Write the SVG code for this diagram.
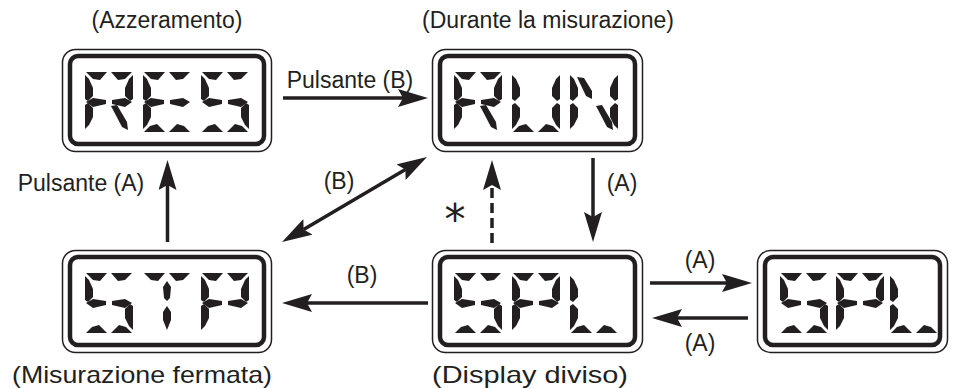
<svg xmlns="http://www.w3.org/2000/svg" xmlns:xlink="http://www.w3.org/1999/xlink" width="955" height="388" viewBox="0 0 955 388">
<style>
.t{font-family:"Liberation Sans",Arial,sans-serif;font-size:23px;fill:#231f20}
.ob{fill:#fff;stroke:#231f20;stroke-width:1.5}
.ib{fill:none;stroke:#231f20;stroke-width:4.5}
.seg{fill:#231f20}
.ln{stroke:#231f20;stroke-width:3.5;fill:none}
</style>
<defs>
<marker id="ah" viewBox="0 0 30 18" refX="5" refY="9" markerWidth="30" markerHeight="18" markerUnits="userSpaceOnUse" orient="auto-start-reverse">
<path d="M0,0 L30,9 L0,18 L5,9 Z" fill="#231f20"/>
</marker>
<polygon id="a1" class="seg" points="1,0 22,0 15,8 8,7"/>
<polygon id="a2" class="seg" points="26,0 47,0 40,7 33,8"/>
<polygon id="f" class="seg" points="0,3 4,7 8,16 8,24 3,29 0,27"/>
<polygon id="b" class="seg" points="48,3 44,7 40,16 40,24 45,29 48,27"/>
<polygon id="g1" class="seg" points="1,30 8,26 21,28 21,32 8,35"/>
<polygon id="g2" class="seg" points="27,28 40,26 47,30 40,35 27,32"/>
<polygon id="e" class="seg" points="0,33 3,31 8,36 8,45 4,53 0,57"/>
<polygon id="c" class="seg" points="48,33 45,31 40,36 40,45 44,53 48,57"/>
<polygon id="d1" class="seg" points="1,60 7,54 14,52 22,60"/>
<polygon id="d2" class="seg" points="26,60 34,52 41,54 47,60"/>
<polygon id="h" class="seg" points="7,5 14,6 22,19 22,27 16,24"/>
<polygon id="i" class="seg" points="24,8 28,14 27,25 24,28 21,25 20,14"/>
<polygon id="l" class="seg" points="24,33 28,39 28,47 24,57 20,47 20,39"/>
<polygon id="m" class="seg" points="26,34 32,33 42,50 43,58 37,55"/>
</defs>

<g id="connectors">
<line class="ln" x1="283" y1="98" x2="403" y2="98" marker-end="url(#ah)"/>
<line class="ln" x1="167.5" y1="242" x2="167.5" y2="185" marker-end="url(#ah)"/>
<line class="ln" x1="303.6" y1="229.4" x2="405.4" y2="169.6" marker-start="url(#ah)" marker-end="url(#ah)"/>
<line class="ln" x1="492" y1="243" x2="492" y2="185" stroke-dasharray="10,5" marker-end="url(#ah)"/>
<line class="ln" x1="593" y1="158" x2="593" y2="217" marker-end="url(#ah)"/>
<line class="ln" x1="428" y1="303" x2="307" y2="303" marker-end="url(#ah)"/>
<line class="ln" x1="650" y1="283" x2="727" y2="283" marker-end="url(#ah)"/>
<line class="ln" x1="748" y1="318" x2="677" y2="318" marker-end="url(#ah)"/>
</g>

<g id="res">
<rect class="ob" x="62.5" y="49.5" width="209" height="102" rx="13"/>
<rect class="ib" x="70" y="56" width="194" height="88" rx="8"/>
<g transform="translate(85,72)"><use href="#a1"/><use href="#a2"/><use href="#f"/><use href="#b"/><use href="#g1"/><use href="#g2"/><use href="#e"/><use href="#m"/></g>
<g transform="translate(143,72)"><use href="#a1"/><use href="#a2"/><use href="#f"/><use href="#g1"/><use href="#g2"/><use href="#e"/><use href="#d1"/><use href="#d2"/></g>
<g transform="translate(201,72)"><use href="#a1"/><use href="#a2"/><use href="#f"/><use href="#g1"/><use href="#g2"/><use href="#c"/><use href="#d1"/><use href="#d2"/></g>
<text class="t" x="167" y="28" text-anchor="middle">(Azzeramento)</text>
</g>

<g id="run">
<rect class="ob" x="432.5" y="49.5" width="210" height="102" rx="13"/>
<rect class="ib" x="440" y="56" width="195" height="88" rx="8"/>
<g transform="translate(454,72)"><use href="#a1"/><use href="#a2"/><use href="#f"/><use href="#b"/><use href="#g1"/><use href="#g2"/><use href="#e"/><use href="#m"/></g>
<g transform="translate(512,72)"><use href="#f"/><use href="#b"/><use href="#e"/><use href="#c"/><use href="#d1"/><use href="#d2"/></g>
<g transform="translate(570,72)"><use href="#f"/><use href="#b"/><use href="#e"/><use href="#c"/><use href="#h"/><use href="#m"/></g>
<text class="t" x="548" y="28" text-anchor="middle">(Durante la misurazione)</text>
</g>

<g id="stp">
<rect class="ob" x="62.5" y="250.5" width="209" height="102" rx="13"/>
<rect class="ib" x="70" y="257" width="194" height="88" rx="8"/>
<g transform="translate(85,273)"><use href="#a1"/><use href="#a2"/><use href="#f"/><use href="#g1"/><use href="#g2"/><use href="#c"/><use href="#d1"/><use href="#d2"/></g>
<g transform="translate(143,273)"><use href="#a1"/><use href="#a2"/><use href="#i"/><use href="#l"/></g>
<g transform="translate(201,273)"><use href="#a1"/><use href="#a2"/><use href="#f"/><use href="#b"/><use href="#g1"/><use href="#g2"/><use href="#e"/></g>
<text class="t" x="142" y="383" text-anchor="middle" style="font-size:24px" textLength="260" lengthAdjust="spacingAndGlyphs">(Misurazione fermata)</text>
</g>

<g id="spl">
<rect class="ob" x="432.5" y="250.5" width="210" height="102" rx="13"/>
<rect class="ib" x="440" y="257" width="195" height="88" rx="8"/>
<g transform="translate(454,273)"><use href="#a1"/><use href="#a2"/><use href="#f"/><use href="#g1"/><use href="#g2"/><use href="#c"/><use href="#d1"/><use href="#d2"/></g>
<g transform="translate(512,273)"><use href="#a1"/><use href="#a2"/><use href="#f"/><use href="#b"/><use href="#g1"/><use href="#g2"/><use href="#e"/></g>
<g transform="translate(570,273)"><use href="#f"/><use href="#e"/><use href="#d1"/><use href="#d2"/></g>
<text class="t" x="530" y="383" text-anchor="middle" style="font-size:24px" textLength="196" lengthAdjust="spacingAndGlyphs">(Display diviso)</text>
</g>

<g id="spl2">
<rect class="ob" x="757.5" y="250.5" width="190" height="102" rx="13"/>
<rect class="ib" x="765" y="257" width="175" height="88" rx="8"/>
<g transform="translate(780,273)"><use href="#a1"/><use href="#a2"/><use href="#f"/><use href="#g1"/><use href="#g2"/><use href="#c"/><use href="#d1"/><use href="#d2"/></g>
<g transform="translate(836,273)"><use href="#a1"/><use href="#a2"/><use href="#f"/><use href="#b"/><use href="#g1"/><use href="#g2"/><use href="#e"/></g>
<g transform="translate(890,273)"><use href="#f"/><use href="#e"/><use href="#d1"/><use href="#d2"/></g>
</g>

<g id="labels">
<text class="t" x="350" y="88" text-anchor="middle">Pulsante (B)</text>
<text class="t" x="81" y="191" text-anchor="middle">Pulsante (A)</text>
<text class="t" x="339" y="189" text-anchor="middle">(B)</text>
<text x="455" y="234" text-anchor="middle" style="font-family:'DejaVu Sans',sans-serif;font-size:42px;fill:#231f20">*</text>
<text class="t" x="622" y="191" text-anchor="middle">(A)</text>
<text class="t" x="362" y="283" text-anchor="middle">(B)</text>
<text class="t" x="700" y="268" text-anchor="middle">(A)</text>
<text class="t" x="700" y="351" text-anchor="middle">(A)</text>
</g>
</svg>
